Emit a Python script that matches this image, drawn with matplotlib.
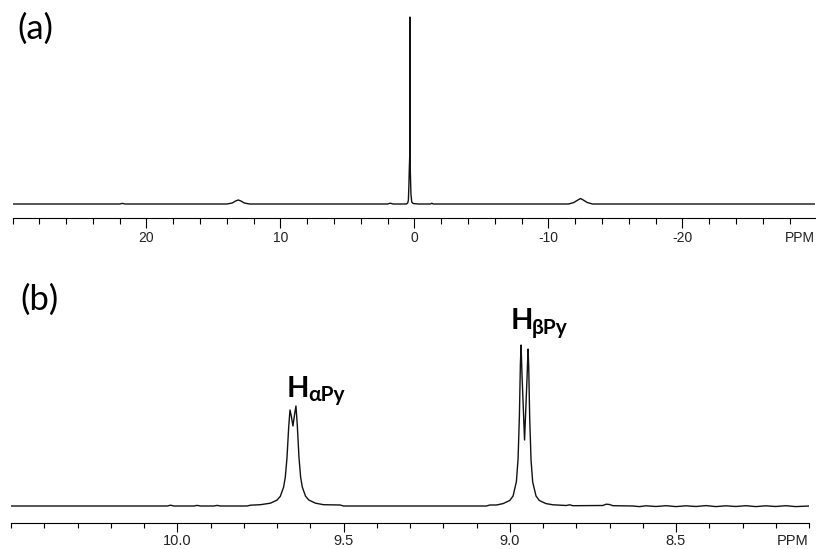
import matplotlib
matplotlib.use("Agg")
import matplotlib.pyplot as plt
from matplotlib.ticker import FixedLocator, NullFormatter

plt.rcParams['axes.unicode_minus'] = False

## traced spectra: (ppm, intensity above baseline, a.u.)
spec_a = [(30.0, 0), (22.0, 0), (21.8, 0.6), (21.6, 0), (14.0, 0), (13.6, 1), (13.35, 3),
          (13.15, 4), (12.95, 3), (12.7, 1), (12.3, 0), (2.0, 0), (1.8, 0.8), (1.6, 0),
          (0.60, 0), (0.50, 1), (0.45, 4), (0.41, 20), (0.38, 36), (0.345, 50), (0.336, 187),
          (0.327, 45), (0.30, 30), (0.26, 10), (0.20, 2), (0.10, 0.5), (-0.3, 0), (-1.2, 0),
          (-1.3, 0.8), (-1.4, 0), (-11.5, 0), (-11.9, 1.5), (-12.2, 4), (-12.4, 5.5),
          (-12.6, 4), (-12.9, 1.5), (-13.3, 0), (-29.9, 0)]

spec_b = [(10.50, 0), (10.03, 0), (10.02, 0.8), (10.01, 0), (9.95, 0), (9.94, 0.6), (9.93, 0),
          (9.89, 0), (9.88, 0.6), (9.87, 0), (9.79, 0), (9.78, 0.8), (9.75, 1.3), (9.72, 2.8),
          (9.70, 5.9), (9.69, 9.7), (9.68, 19), (9.675, 29), (9.67, 48), (9.665, 78),
          (9.661, 96), (9.657, 90), (9.652, 80), (9.647, 92), (9.643, 100), (9.639, 81),
          (9.634, 49), (9.629, 29), (9.624, 19), (9.614, 9.7), (9.604, 5.9), (9.584, 2.8),
          (9.56, 1.3), (9.51, 1), (9.50, 0), (9.30, 0), (9.07, 0), (9.06, 1), (9.04, 1),
          (9.02, 2.4), (9.00, 5.5), (8.99, 10), (8.98, 24.5), (8.975, 47), (8.971, 90),
          (8.968, 142), (8.966, 161), (8.963, 130), (8.9555, 66), (8.948, 128), (8.945, 157),
          (8.943, 140), (8.940, 88), (8.936, 46), (8.931, 24), (8.921, 10), (8.911, 5.5),
          (8.891, 2.4), (8.87, 1.2), (8.83, 0.5), (8.82, 1.2), (8.81, 0.3), (8.72, 0.5),
          (8.71, 1.8), (8.70, 1.5), (8.69, 0.3), (8.63, 0), (8.61, -0.6), (8.59, 0.2),
          (8.56, -0.5), (8.53, 0.3), (8.50, -0.6), (8.47, 0.2), (8.44, -0.5), (8.41, 0.4),
          (8.38, -0.6), (8.35, 0.2), (8.32, -0.5), (8.29, 0.3), (8.26, -0.6), (8.23, 0.2),
          (8.20, -0.5), (8.17, 0.3), (8.14, -0.6), (8.10, 0)]

major_a = [20, 10, 0, -10, -20]
minor_a = list(range(30, -30, -2))
major_b = [10.0, 9.5, 9.0, 8.5]
major_b_labels = ["10.0", "9.5", "9.0", "8.5"]
minor_b = [round(10.5 - 0.1 * i, 1) for i in range(25)]

tick_font = ['Liberation Sans', 'DejaVu Sans']
label_font = ['Lato', 'Open Sans', 'DejaVu Sans']

fig = plt.figure(figsize=(8.16, 5.49), dpi=100)
W, H = 816.0, 549.0

def setup(ax, xlim, ylim, majors, labels, minors, fs, tl, pad):
    ax.set_xlim(*xlim)
    ax.set_ylim(*ylim)
    for s in ['top', 'left', 'right']:
        ax.spines[s].set_visible(False)
    ax.spines['bottom'].set_linewidth(0.8)
    ax.set_yticks([])
    ax.xaxis.set_major_locator(FixedLocator(majors))
    ax.set_xticklabels(labels)
    ax.xaxis.set_minor_locator(FixedLocator(minors))
    ax.xaxis.set_minor_formatter(NullFormatter())
    ax.tick_params(axis='x', which='major', direction='out', length=tl, width=0.8, pad=pad)
    ax.tick_params(axis='x', which='minor', direction='out', length=tl * 0.6, width=0.8)
    for t in ax.get_xticklabels():
        t.set_family(tick_font)
        t.set_fontsize(fs)
        t.set_color('#222222')
    ax.annotate("PPM", xy=(1.0, 0), xycoords='axes fraction', xytext=(0, -(tl + pad)),
                textcoords='offset points', ha='right', va='top', family=tick_font,
                fontsize=fs, color='#222222')

# panel (a)
ax1 = fig.add_axes([12.5 / W, (H - 218) / H, (815 - 12.5) / W, 208 / H])
x, y = zip(*spec_a)
ax1.plot(x, y, color='#111111', lw=1.0)
setup(ax1, (30, -29.9), (-14, 194), major_a, [str(v) for v in major_a], minor_a, 10, 7, 2.5)

# panel (b)
ax2 = fig.add_axes([11 / W, (H - 523) / H, 798 / W, 223 / H])
x, y = zip(*spec_b)
ax2.plot(x, y, color='#111111', lw=1.0)
setup(ax2, (10.5, 8.1), (-17, 206), major_b, major_b_labels, minor_b, 10.5, 6.5, 1.2)

# peak labels
ax2.text(9.670, 109, "H", ha='left', va='baseline', family=label_font,
         fontweight='bold', fontsize=21)
ax2.text(9.607, 105, "\u03b1Py", ha='left', va='baseline', family=label_font,
         fontweight='bold', fontsize=15)
ax2.text(8.996, 177, "H", ha='left', va='baseline', family=label_font,
         fontweight='bold', fontsize=21)
ax2.text(8.933, 172, "\u03b2Py", ha='left', va='baseline', family=label_font,
         fontweight='bold', fontsize=15)

fig.text(17 / W, 1 - 29 / H, "(a)", family=label_font, fontsize=25, va='center', ha='left')
fig.text(20 / W, 1 - 300 / H, "(b)", family=label_font, fontsize=25, va='center', ha='left')

fig.savefig("out.png", dpi=100)
